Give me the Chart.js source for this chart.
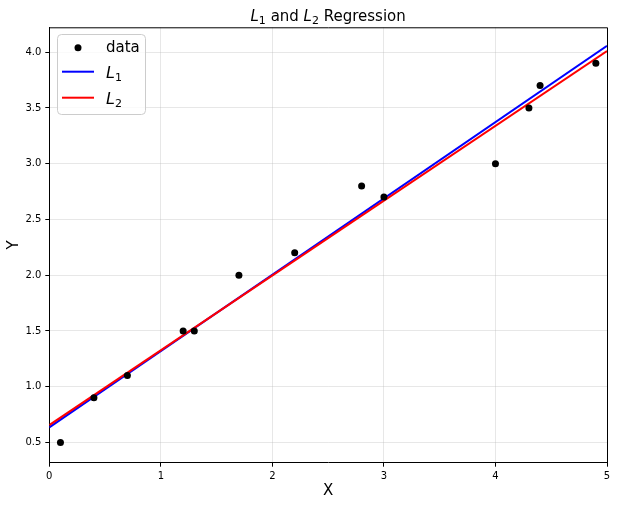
<!DOCTYPE html>
<html>
<head>
<meta charset="utf-8">
<script src="https://cdn.jsdelivr.net/npm/chart.js@4"></script>
<style>
html,body{margin:0;padding:0;background:#fff;}
#wrap{width:617px;height:505px;position:relative;}
</style>
</head>
<body>
<div id="wrap"><canvas id="c" width="617" height="505"></canvas></div>
<script>
// ---- data ----
const dataX = [0.1, 0.4, 0.7, 1.2, 1.3, 1.7, 2.2, 2.8, 3.0, 4.0, 4.3, 4.4, 4.9];
const dataY = [0.5, 0.9, 1.1, 1.5, 1.5, 2.0, 2.2, 2.8, 2.7, 3.0, 3.5, 3.7, 3.9];
const lineX = [0, 5];
const l1Y = [0.635, 4.057];
const l2Y = [0.655, 4.010];
const xTicks = [0, 1, 2, 3, 4, 5];
const yTicks = [0.5, 1.0, 1.5, 2.0, 2.5, 3.0, 3.5, 4.0];
const seriesNames = ['data', 'L1', 'L2'];

const FONT = "'DejaVu Sans', sans-serif";

function pts(xs, ys) { return xs.map((x, i) => ({x: x, y: ys[i]})); }

// draw text with italic L and subscript digit
function drawMath(ctx, parts, x, y, size, align) {
  const fontFor = p => p.style === 'i' ? `italic ${size}px ${FONT}` :
                        p.style === 'sub' ? `${Math.round(size*0.7)}px ${FONT}` : `${size}px ${FONT}`;
  let total = 0;
  parts.forEach(p => { ctx.font = fontFor(p); total += ctx.measureText(p.t).width; });
  let cx = align === 'center' ? x - total / 2 : x;
  ctx.textAlign = 'left';
  ctx.textBaseline = 'alphabetic';
  parts.forEach(p => {
    ctx.font = fontFor(p);
    const dy = p.style === 'sub' ? size * 0.22 : 0;
    ctx.fillText(p.t, cx, y + dy);
    cx += ctx.measureText(p.t).width;
  });
}

const decorPlugin = {
  id: 'decor',
  afterDraw(chart) {
    const ctx = chart.ctx;
    const a = chart.chartArea;
    ctx.save();
    // top & right spines
    ctx.strokeStyle = '#000';
    ctx.lineWidth = 1;
    ctx.beginPath();
    ctx.moveTo(a.left, a.top + 0.5); ctx.lineTo(a.right + 0.5, a.top + 0.5);
    ctx.lineTo(a.right + 0.5, a.bottom);
    ctx.stroke();
    // title
    ctx.fillStyle = '#000';
    drawMath(ctx, [{t:'L',style:'i'},{t:'1',style:'sub'},{t:' and ',style:'n'},{t:'L',style:'i'},{t:'2',style:'sub'},{t:' Regression',style:'n'}],
      (a.left + a.right) / 2, 21, 15, 'center');
    // legend
    const bx = 57.5, by = 34.5, bw = 88, bh = 80, r = 4;
    ctx.beginPath();
    ctx.moveTo(bx + r, by);
    ctx.arcTo(bx + bw, by, bx + bw, by + bh, r);
    ctx.arcTo(bx + bw, by + bh, bx, by + bh, r);
    ctx.arcTo(bx, by + bh, bx, by, r);
    ctx.arcTo(bx, by, bx + bw, by, r);
    ctx.closePath();
    ctx.fillStyle = 'rgba(255,255,255,0.8)';
    ctx.fill();
    ctx.strokeStyle = '#cccccc';
    ctx.stroke();
    const rows = [47.7, 71.7, 97.7];
    ctx.fillStyle = '#000';
    ctx.beginPath(); ctx.arc(78, rows[0], 3.5, 0, Math.PI * 2); ctx.fill();
    ctx.lineWidth = 2;
    ctx.strokeStyle = '#0000ff';
    ctx.beginPath(); ctx.moveTo(62, rows[1]); ctx.lineTo(94, rows[1]); ctx.stroke();
    ctx.strokeStyle = '#ff0000';
    ctx.beginPath(); ctx.moveTo(62, rows[2]); ctx.lineTo(94, rows[2]); ctx.stroke();
    ctx.fillStyle = '#000';
    ctx.font = `15px ${FONT}`;
    ctx.textBaseline = 'middle';
    ctx.textAlign = 'left';
    ctx.fillText(seriesNames[0], 106, rows[0]);
    drawMath(ctx, [{t:'L',style:'i'},{t:'1',style:'sub'}], 106, rows[1] + 6, 16, 'left');
    drawMath(ctx, [{t:'L',style:'i'},{t:'2',style:'sub'}], 106, rows[2] + 6, 16, 'left');
    ctx.restore();
  }
};

new Chart(document.getElementById('c'), {
  type: 'scatter',
  data: {
    datasets: [
      { label: 'L1', data: pts(lineX, l1Y), showLine: true, borderColor: '#0000ff', borderWidth: 2,
        pointRadius: 0, fill: false, order: 3 },
      { label: 'L2', data: pts(lineX, l2Y), showLine: true, borderColor: '#ff0000', borderWidth: 2,
        pointRadius: 0, fill: false, order: 2 },
      { label: 'data', data: pts(dataX, dataY), backgroundColor: '#000', borderColor: '#000',
        pointRadius: 3.5, borderWidth: 0, order: 1 }
    ]
  },
  options: {
    responsive: false,
    animation: false,
    events: [],
    layout: { padding: { top: 27.3, right: 10, left: 0, bottom: 0 } },
    plugins: { legend: { display: false }, title: { display: false }, tooltip: { enabled: false } },
    scales: {
      x: {
        type: 'linear', min: 0, max: 5,
        afterFit(s) { s.height = 42.3; },
        afterBuildTicks(s) { s.ticks = xTicks.map(v => ({value: v})); },
        ticks: { color: '#000', font: { family: FONT, size: 10 }, padding: 4, maxRotation: 0,
                 callback: v => String(v) },
        grid: { color: 'rgba(176,176,176,0.3)', tickColor: '#000', tickLength: 4, lineWidth: 1 },
        border: { color: '#000', width: 1 },
        title: { display: true, text: 'X', color: '#000', font: { family: FONT, size: 15 },
                 padding: { top: 0, bottom: 5 } }
      },
      y: {
        type: 'linear', min: 0.318, max: 4.223,
        afterFit(s) { s.width = 49.3; },
        afterBuildTicks(s) { s.ticks = yTicks.map(v => ({value: v})); },
        ticks: { color: '#000', font: { family: FONT, size: 10 }, padding: 4,
                 callback: v => Number(v).toFixed(1) },
        grid: { color: 'rgba(176,176,176,0.3)', tickColor: '#000', tickLength: 4, lineWidth: 1 },
        border: { color: '#000', width: 1 },
        title: { display: true, text: 'Y', color: '#000', font: { family: FONT, size: 15 },
                 padding: { top: 5, bottom: 0 } }
      }
    }
  },
  plugins: [decorPlugin]
});
</script>
</body>
</html>
